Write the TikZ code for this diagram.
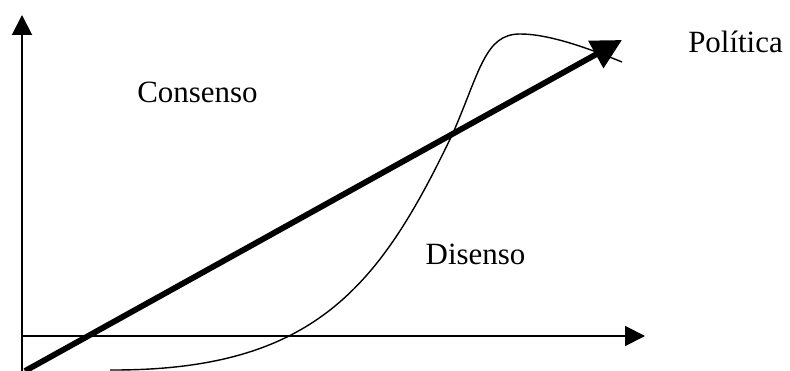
\documentclass[tikz,border=0pt]{standalone}
\usepackage{fontspec}
\setmainfont{Liberation Serif}
\usetikzlibrary{arrows.meta}
\tikzset{
  axis/.style={line width=1.1pt, -{Triangle[length=0.4cm, width=0.4cm]}},
  policy/.style={line width=3.3pt, -{Triangle[length=0.6cm, width=0.6cm]}},
  curve/.style={line width=0.8pt},
  lbl/.style={anchor=base, inner sep=0pt, font=\fontsize{17.6}{20}\selectfont}
}
\begin{document}
\begin{tikzpicture}[x=0.02cm,y=0.02cm]
\useasboundingbox (0,0) rectangle (790,371);
\coordinate (o) at (22,35);
\coordinate (ytip) at (22,356);
\coordinate (xtip) at (645,35);
\coordinate (start) at (25,0);
\coordinate (ptip) at (622,331);
\coordinate (cross) at (453,238);
\coordinate (top) at (520,337);
\draw[axis] (22,0)--(ytip);
\draw[axis] (o)--(xtip);
\draw[curve] (110,1) .. controls (315,0) and (380,85) .. (cross)
  .. controls (480,300) and (485,337) .. (top)
  .. controls (550,337) and (590,322) .. (622,309);
\draw[policy] (start)--(ptip);
\node[lbl] (consenso) at (197.5,268) {Consenso};
\node[lbl] (disenso) at (475.5,106) {Disenso};
\node[lbl] (politica) at (735.5,318) {Política};
\end{tikzpicture}
\end{document}
